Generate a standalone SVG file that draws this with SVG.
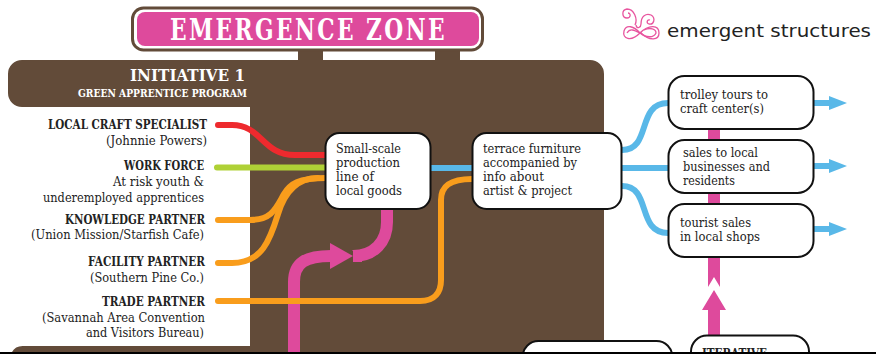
<svg xmlns="http://www.w3.org/2000/svg" width="876" height="354" viewBox="0 0 876 354">
<style>
text{font-family:"DejaVu Serif Condensed","DejaVu Serif","Liberation Serif",serif;fill:#222;font-size:12.5px}
.r{text-anchor:end}
.b{font-weight:700}
.w{fill:#fff;font-weight:700}
.n{fill:#fff;stroke:#111;stroke-width:2}
.c{fill:none;stroke-linecap:butt}
.s{fill:none;stroke-linecap:round}
.red{stroke:#ee2a2e;stroke-width:6}
.grn{stroke:#afd136;stroke-width:6}
.org{stroke:#f99d1c;stroke-width:6}
.blu{stroke:#59b8e8;stroke-width:6}
.pnk{stroke:#de4a9c;stroke-width:12}
.lg{fill:none;stroke:#e8559f;stroke-width:1.3}
</style>
<rect width="876" height="354" fill="#fff"/>
<g id="background">
<path d="M22 60H590a14 14 0 0 1 14 14V346H250V107H22a14 14 0 0 1-14-14V74a14 14 0 0 1 14-14Z" fill="#624b39"/>
<path d="M12 352a12 10 0 0 1 12-6H604V352Z" fill="#624b39"/>
<rect x="298" y="48" width="25" height="13" fill="#624b39"/>
<rect x="435" y="48" width="25" height="13" fill="#624b39"/>
</g>
<g id="title">
<rect x="132.500" y="8" width="350" height="42" rx="11" fill="#fff" stroke="#624b39" stroke-width="3"/>
<rect x="137" y="12" width="342" height="34" rx="8" fill="#de4a9c"/>
<text x="170" y="40" class="w" style="font-size:30px;letter-spacing:3px" textLength="277" lengthAdjust="spacingAndGlyphs">EMERGENCE ZONE</text>
</g>
<g id="initiative">
<text x="130" y="81" class="w" style="font-size:17px" textLength="115" lengthAdjust="spacingAndGlyphs">INITIATIVE 1</text>
<text x="78" y="97" class="w" style="font-size:11px" textLength="169" lengthAdjust="spacingAndGlyphs">GREEN APPRENTICE PROGRAM</text>
</g>
<g id="logo">
<path class="lg" d="M640 33C634 26 626 24 624 31C622 39 631 42 640 33C649 24 659 25 659 33C659 40 650 42 640 32"/>
<path class="lg" d="M627 33C630 28 634 30 640 33C646 38 654 38 656 33C656 29 650 27 644 30"/>
<path class="lg" d="M635 25C638 19 634 9 627 9C621 10 622 18 627 18C631 18 631 13 628 13"/>
<path class="lg" d="M636 25C637 30 641 27 641 24C641 16 646 13 651 15C656 18 654 25 649 24C646 23 647 19 650 20"/>
<text x="667" y="37" style='font-family:"DejaVu Sans",sans-serif;font-size:18.500px;fill:#222' textLength="204" lengthAdjust="spacingAndGlyphs">emergent structures</text>
</g>
<g id="connectors">
<path class="s red" d="M218 125H232C262 125 262 155 295 155H326"/>
<path class="s grn" d="M217 167.500H326"/>
<path class="s org" d="M218 220H250C272 220 276 208 284 194C290 184 298 178 326 178"/>
<path class="s org" d="M218 263H232C262 263 270 240 278 214C284 194 296 178 318 178"/>
<path class="s org" d="M218 301H420C435 301 441 292 441 280V200C441 186 450 179 472 179"/>
<path class="c blu" d="M431 168H472"/>
<path class="c blu" d="M622 150C652 150 636 103 668 103"/>
<path class="c blu" d="M622 168H668"/>
<path class="c blu" d="M622 186C652 186 636 233 668 233"/>
<path class="c blu" d="M814 103H830M814 166H830M814 229H830"/>
<path fill="#59b8e8" d="M829 96L847 103L829 110ZM829 159L847 166L829 173ZM829 222L847 229L829 236Z"/>
<path class="c pnk" d="M294 354V282C294 263 305 256 331 256"/>
<path fill="#de4a9c" d="M330 243L353 256L330 269Z"/>
<path class="c pnk" d="M387 209V222C387 242 374 256 353 256"/>
<path fill="#de4a9c" d="M352 250L358 256L353 262H362V250Z"/>
<path fill="#de4a9c" d="M708 129H720V140H708ZM708 193H720V204H708ZM708 257H720V287L714 277L708 287ZM708 310H702L714 290L726 310H720V336H708Z"/>
<path class="c org" d="M286 301H306"/>
</g>
<g id="partners">
<text class="r b" x="207" y="129" textLength="159" lengthAdjust="spacingAndGlyphs">LOCAL CRAFT SPECIALIST</text>
<text class="r" x="207" y="145" textLength="101" lengthAdjust="spacingAndGlyphs">(Johnnie Powers)</text>
<text class="r b" x="204" y="170" textLength="80" lengthAdjust="spacingAndGlyphs">WORK FORCE</text>
<text class="r" x="204" y="186" textLength="91" lengthAdjust="spacingAndGlyphs">At risk youth &amp;</text>
<text class="r" x="204" y="202" textLength="161" lengthAdjust="spacingAndGlyphs">underemployed apprentices</text>
<text class="r b" x="205" y="224" textLength="140" lengthAdjust="spacingAndGlyphs">KNOWLEDGE PARTNER</text>
<text class="r" x="204" y="239" textLength="173" lengthAdjust="spacingAndGlyphs">(Union Mission/Starfish Cafe)</text>
<text class="r b" x="205" y="266" textLength="117" lengthAdjust="spacingAndGlyphs">FACILITY PARTNER</text>
<text class="r" x="204" y="282" textLength="114" lengthAdjust="spacingAndGlyphs">(Southern Pine Co.)</text>
<text class="r b" x="205" y="306" textLength="103" lengthAdjust="spacingAndGlyphs">TRADE PARTNER</text>
<text class="r" x="205" y="322" textLength="163" lengthAdjust="spacingAndGlyphs">(Savannah Area Convention</text>
<text class="r" x="204" y="337" textLength="118" lengthAdjust="spacingAndGlyphs">and Visitors Bureau)</text>
</g>
<g id="node-production">
<rect class="n" x="325.500" y="133" width="105" height="76" rx="14"/>
<text x="336" y="153" textLength="65" lengthAdjust="spacingAndGlyphs">Small-scale</text>
<text x="336" y="167" textLength="64" lengthAdjust="spacingAndGlyphs">production</text>
<text x="336" y="181" textLength="38" lengthAdjust="spacingAndGlyphs">line of</text>
<text x="336" y="195" textLength="66" lengthAdjust="spacingAndGlyphs">local goods</text>
</g>
<g id="node-furniture">
<rect class="n" x="472.500" y="133" width="149" height="76" rx="14"/>
<text x="483" y="153" textLength="98" lengthAdjust="spacingAndGlyphs">terrace furniture</text>
<text x="483" y="167" textLength="94" lengthAdjust="spacingAndGlyphs">accompanied by</text>
<text x="483" y="181" textLength="61" lengthAdjust="spacingAndGlyphs">info about</text>
<text x="483" y="195" textLength="89" lengthAdjust="spacingAndGlyphs">artist &amp; project</text>
</g>
<g id="node-trolley">
<rect class="n" x="668.500" y="76" width="145" height="53" rx="16"/>
<text x="680" y="99" textLength="88" lengthAdjust="spacingAndGlyphs">trolley tours to</text>
<text x="680" y="113" textLength="84" lengthAdjust="spacingAndGlyphs">craft center(s)</text>
</g>
<g id="node-sales">
<rect class="n" x="668.500" y="140" width="145" height="53" rx="16"/>
<text x="683" y="157" textLength="75" lengthAdjust="spacingAndGlyphs">sales to local</text>
<text x="683" y="171" textLength="87" lengthAdjust="spacingAndGlyphs">businesses and</text>
<text x="683" y="185" textLength="52" lengthAdjust="spacingAndGlyphs">residents</text>
</g>
<g id="node-tourist">
<rect class="n" x="668.500" y="204" width="145" height="53" rx="16"/>
<text x="680" y="227" textLength="71" lengthAdjust="spacingAndGlyphs">tourist sales</text>
<text x="680" y="241" textLength="80" lengthAdjust="spacingAndGlyphs">in local shops</text>
</g>
<g id="node-lower">
<rect class="n" x="522.500" y="341" width="150" height="40" rx="16"/>
</g>
<g id="node-iterative">
<rect class="n" x="691" y="335.500" width="118" height="40" rx="16"/>
<text x="702" y="358" class="b" textLength="65" lengthAdjust="spacingAndGlyphs">ITERATIVE</text>
</g>
<rect id="edge" x="0" y="352" width="876" height="2" fill="#000"/>
</svg>
